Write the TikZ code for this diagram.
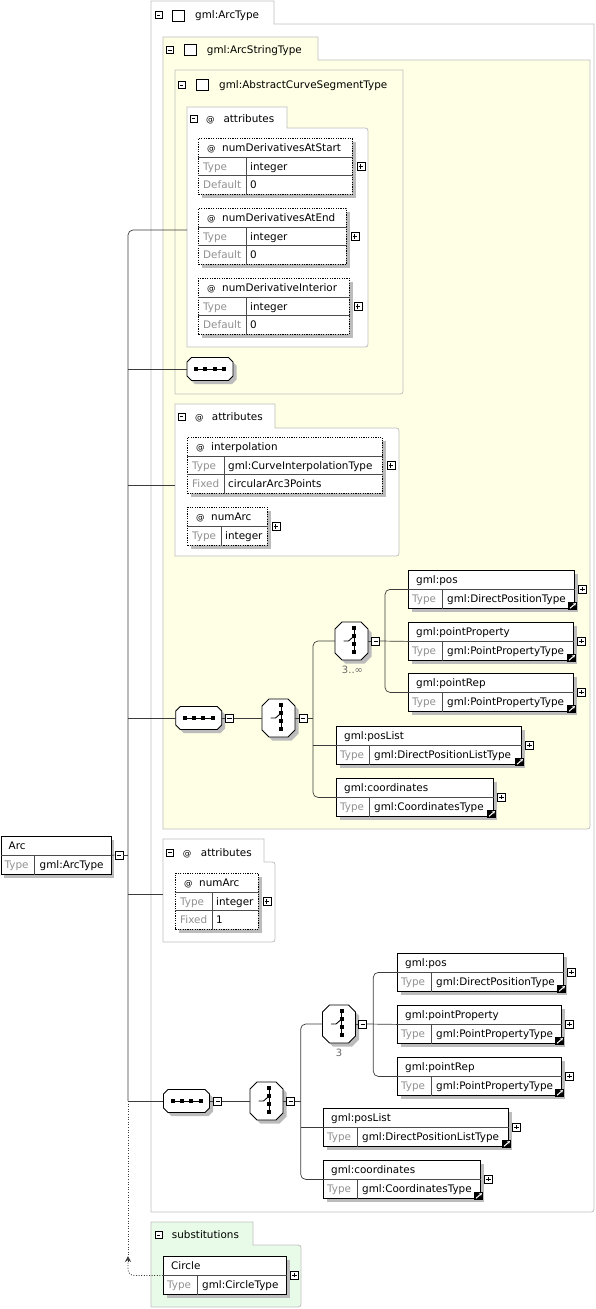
\documentclass[tikz,border=0pt]{standalone}
\usepackage{fontspec}
\setmainfont{DejaVu Sans}
\usetikzlibrary{arrows.meta,positioning,calc,shadows}

\definecolor{frameyellow}{RGB}{255,255,229}
\definecolor{framegreen}{RGB}{232,251,232}
\definecolor{framegrey}{RGB}{192,192,192}
\definecolor{linegrey}{RGB}{60,60,60}
\definecolor{typegrey}{RGB}{145,145,145}
\definecolor{shadowgrey}{RGB}{188,188,188}

\tikzset{
  frameline/.style={draw=framegrey, line width=0.8pt},
  conn/.style={draw=linegrey, line width=0.7pt},
  subline/.style={draw=linegrey, line width=0.8pt, dash pattern=on 1pt off 1.6pt},
  boxshadow/.style={drop shadow={shadow xshift=3.5pt, shadow yshift=-3.5pt, fill=shadowgrey, opacity=1}},
  elembox/.style={draw, line width=0.8pt, fill=white, anchor=north west, minimum height=38pt, inner sep=0, boxshadow},
  attrbox/.style={draw, line width=0.8pt, dash pattern=on 1.2pt off 1.2pt, fill=white, anchor=north west, inner sep=0, boxshadow},
  rowline/.style={draw=black!70, line width=0.6pt},
  txt/.style={anchor=base west, inner sep=0, font=\fontsize{10.4}{12}\selectfont},
  greytxt/.style={txt, text=typegrey},
  attxt/.style={txt, font=\fontsize{8.5}{10}\selectfont},
  cardtxt/.style={inner sep=0, text=black!60, font=\fontsize{10}{12}\selectfont},
  iconspot/.style={rectangle, inner sep=0},
  btn/.style={draw, fill=white, line width=0.6pt, minimum size=8pt, inner sep=0},
  minusbtn/.style={btn, path picture={
    \draw[line width=0.7pt] ([xshift=1.8pt]path picture bounding box.west) -- ([xshift=-1.8pt]path picture bounding box.east);}},
  plusbtn/.style={btn, path picture={
    \draw[line width=0.7pt] ([xshift=1.8pt]path picture bounding box.west) -- ([xshift=-1.8pt]path picture bounding box.east);
    \draw[line width=0.7pt] ([yshift=-1.8pt]path picture bounding box.north) -- ([yshift=1.8pt]path picture bounding box.south);}},
  linkicon/.style={fill=black, minimum width=9pt, minimum height=8pt, inner sep=0, path picture={
    \draw[white, line width=1pt, -{Stealth[length=2.8pt,width=3.4pt]}] ([shift={(1.8pt,1.6pt)}]path picture bounding box.south west) -- ([shift={(-1.4pt,-1.3pt)}]path picture bounding box.north east);}},
  typesq/.style={draw, fill=white, line width=0.8pt, minimum width=12pt, minimum height=11pt, inner sep=0}
}

% frame with a tab: fill, left, top, tab right, step, right, bottom
\newcommand{\typeframe}[7]{%
  \draw[frameline, fill=#1] (#2,#3) -- (#4,#3) -- (#4,#5) -- (#6,#5) -- (#6,#7-6) .. controls (#6,#7) .. (#6-6,#7) -- (#2,#7) -- cycle;}
\newcommand{\attrframe}[7]{%
  \draw[frameline, fill=#1] (#2,#3) -- (#4,#3) -- (#4,#5) -- (#6-6,#5) .. controls (#6,#5) .. (#6,#5+6) -- (#6,#7-6) .. controls (#6,#7) .. (#6-6,#7) -- (#2,#7) -- cycle;}

% element box: name, left, top, width, divider, title, type, button
\newcommand{\elem}[8]{%
  \node[elembox, minimum width=#4pt] (#1) at (#2,#3) {};
  \draw[rowline] ([yshift=-19pt]#1.north west) -- ([yshift=-19pt]#1.north east);
  \draw[rowline] ([xshift=#5pt, yshift=-19pt]#1.north west) -- ([xshift=#5pt]#1.south west);
  \node[txt] (#1-n) at ([xshift=8pt, yshift=-13.3pt]#1.north west) {#6};
  \node[greytxt] (#1-k) at ([xshift=4pt, yshift=-32.3pt]#1.north west) {Type};
  \node[txt] (#1-v) at ([xshift=#5pt+5pt, yshift=-32.3pt]#1.north west) {#7};
  \node[#8] (#1-p) at ([xshift=7.5pt, yshift=-19pt]#1.north east) {};}
\newcommand{\linkof}[1]{%
  \node[linkicon] (#1-a) at ([xshift=-2pt, yshift=3pt]#1.south east) {};}

% attribute box: name, left, top, width, divider, attribute, type, key, value
\newcommand{\attr}[9]{%
  \node[attrbox, minimum width=#4pt, minimum height=56pt] (#1) at (#2,#3) {};
  \draw[rowline] ([yshift=-19pt]#1.north west) -- ([yshift=-19pt]#1.north east);
  \draw[rowline] ([yshift=-37.5pt]#1.north west) -- ([yshift=-37.5pt]#1.north east);
  \draw[rowline] ([xshift=#5pt, yshift=-19pt]#1.north west) -- ([xshift=#5pt]#1.south west);
  \node[attxt] (#1-at) at ([xshift=9pt, yshift=-13.3pt]#1.north west) {@};
  \node[txt] (#1-n) at ([xshift=24pt, yshift=-13.3pt]#1.north west) {#6};
  \node[greytxt] (#1-k) at ([xshift=5pt, yshift=-32pt]#1.north west) {Type};
  \node[txt] (#1-v) at ([xshift=#5pt+4pt, yshift=-32pt]#1.north west) {#7};
  \node[greytxt] (#1-k2) at ([xshift=5pt, yshift=-50.5pt]#1.north west) {#8};
  \node[txt] (#1-v2) at ([xshift=#5pt+4pt, yshift=-50.5pt]#1.north west) {#9};
  \node[plusbtn] (#1-p) at ([xshift=8pt]#1.east) {};}
\newcommand{\attrshort}[7]{%
  \node[attrbox, minimum width=#4pt, minimum height=38pt] (#1) at (#2,#3) {};
  \draw[rowline] ([yshift=-19pt]#1.north west) -- ([yshift=-19pt]#1.north east);
  \draw[rowline] ([xshift=#5pt, yshift=-19pt]#1.north west) -- ([xshift=#5pt]#1.south west);
  \node[attxt] (#1-at) at ([xshift=9pt, yshift=-13.3pt]#1.north west) {@};
  \node[txt] (#1-n) at ([xshift=24pt, yshift=-13.3pt]#1.north west) {#6};
  \node[greytxt] (#1-k) at ([xshift=5pt, yshift=-32pt]#1.north west) {Type};
  \node[txt] (#1-v) at ([xshift=#5pt+4pt, yshift=-32pt]#1.north west) {#7};
  \node[plusbtn] (#1-p) at ([xshift=8pt]#1.east) {};}

% octagon: style, centre, half width, half height, chamfer
\newcommand{\octdraw}[5]{%
  \path[#1] ([shift={(-#3pt+#5pt,#4pt)}]#2) -- ([shift={(#3pt-#5pt,#4pt)}]#2) -- ([shift={(#3pt,#4pt-#5pt)}]#2) -- ([shift={(#3pt,-#4pt+#5pt)}]#2) -- ([shift={(#3pt-#5pt,-#4pt)}]#2) -- ([shift={(-#3pt+#5pt,-#4pt)}]#2) -- ([shift={(-#3pt,-#4pt+#5pt)}]#2) -- ([shift={(-#3pt,#4pt-#5pt)}]#2) -- cycle;}

% sequence icon: name, x, y
\newcommand{\seqicon}[3]{%
  \node[iconspot, minimum width=46pt, minimum height=23pt] (#1) at (#2,#3) {};
  \coordinate (#1-s) at ([shift={(3.5pt,-3.5pt)}]#1.center);
  \octdraw{fill=shadowgrey}{#1-s}{23}{11.5}{4.5}
  \octdraw{draw, fill=white, line width=0.8pt}{#1.center}{23}{11.5}{4.5}
  \draw[line width=0.9pt] ([xshift=-14pt]#1.center) -- ([xshift=14pt]#1.center);
  \fill ([xshift=-14pt]#1.center) ++(-2pt,-2pt) rectangle ++(4pt,4pt);
  \fill ([xshift=-4.7pt]#1.center) ++(-2pt,-2pt) rectangle ++(4pt,4pt);
  \fill ([xshift=4.7pt]#1.center) ++(-2pt,-2pt) rectangle ++(4pt,4pt);
  \fill ([xshift=14pt]#1.center) ++(-2pt,-2pt) rectangle ++(4pt,4pt);}

% choice icon: name, x, y
\newcommand{\choiceicon}[3]{%
  \node[iconspot, minimum width=33pt, minimum height=38pt] (#1) at (#2,#3) {};
  \coordinate (#1-s) at ([shift={(3.5pt,-3.5pt)}]#1.center);
  \octdraw{fill=shadowgrey}{#1-s}{16.5}{19}{7}
  \octdraw{draw, fill=white, line width=0.8pt}{#1.center}{16.5}{19}{7}
  \draw[line width=0.9pt] ([shift={(2.5pt,12.8pt)}]#1.center) -- ([shift={(2.5pt,-11.2pt)}]#1.center);
  \draw[line width=0.9pt] ([shift={(-8pt,0pt)}]#1.center) -- ([shift={(-3pt,0pt)}]#1.center) -- ([shift={(2.5pt,4.8pt)}]#1.center);
  \fill ([shift={(2.5pt,12.8pt)}]#1.center) ++(-2pt,-2pt) rectangle ++(4pt,4pt);
  \fill ([shift={(2.5pt,4.8pt)}]#1.center) ++(-2pt,-2pt) rectangle ++(4pt,4pt);
  \fill ([shift={(2.5pt,-3.2pt)}]#1.center) ++(-2pt,-2pt) rectangle ++(4pt,4pt);
  \fill ([shift={(2.5pt,-11.2pt)}]#1.center) ++(-2pt,-2pt) rectangle ++(4pt,4pt);}

\begin{document}
\begin{tikzpicture}[x=1pt, y=-1pt, >=Stealth]
        \useasboundingbox (0,0) rectangle (595,1309);
        % Type frames
        \typeframe{white}{151}{1}{274}{24}{594}{1212}
        \typeframe{frameyellow}{163}{37}{318}{60}{590}{829}
        \typeframe{none}{175}{70}{403}{70}{403}{394}
        \attrframe{white}{187}{107}{287}{128}{368}{347}
        \attrframe{white}{175}{404}{275}{428}{399}{556}
        \attrframe{white}{163}{839}{264}{862}{275}{942}
        \attrframe{framegreen}{151}{1222}{253}{1245}{301}{1307}

        % Frame headers
        \node[minusbtn, minimum size=7pt] (arcT-m) at (158.3,15) {};
        \node[typesq] (arcT-sq) at (178.7,16) {};
        \node[txt] (arcT-t) at (195,18.8) {gml:ArcType};
        \node[minusbtn, minimum size=7pt] (strT-m) at (170,50) {};
        \node[typesq] (strT-sq) at (190.7,49.7) {};
        \node[txt] (strT-t) at (206.7,53.8) {gml:ArcStringType};
        \node[minusbtn, minimum size=7pt] (segT-m) at (181.7,85) {};
        \node[typesq] (segT-sq) at (202.5,85) {};
        \node[txt] (segT-t) at (219,88.8) {gml:AbstractCurveSegmentType};
        \node[minusbtn, minimum size=7pt] (attA-m) at (193.3,118.3) {};
        \node[attxt] (attA-at) at (206,122) {@};
        \node[txt] (attA-t) at (223.3,122) {attributes};
        \node[minusbtn, minimum size=7pt] (attB-m) at (181.7,416.7) {};
        \node[attxt] (attB-at) at (195,420.5) {@};
        \node[txt] (attB-t) at (211.7,420.5) {attributes};
        \node[minusbtn, minimum size=7pt] (attC-m) at (170,852.3) {};
        \node[attxt] (attC-at) at (182.7,856) {@};
        \node[txt] (attC-t) at (200.7,856) {attributes};
        \node[minusbtn, minimum size=7pt] (subT-m) at (158.3,1235) {};
        \node[txt] (subT-t) at (171.7,1238.8) {substitutions};

        % Attributes
        \attr{numStart}{198}{138}{154}{48}{numDerivativesAtStart}{integer}{Default}{0}
        \attr{numEnd}{198}{208}{148}{48}{numDerivativesAtEnd}{integer}{Default}{0}
        \attr{numInt}{198}{278}{151}{48}{numDerivativeInterior}{integer}{Default}{0}
        \attr{interp}{187}{437}{195}{37}{interpolation}{gml:CurveInterpolationType}{Fixed}{circularArc3Points}
        \attrshort{numArcA}{187}{507}{80}{34}{numArc}{integer}
        \attr{numArcB}{175}{873}{83}{37}{numArc}{integer}{Fixed}{1}

        % Elements
        \elem{arc}{0.5}{836}{110}{34}{Arc}{gml:ArcType}{minusbtn}
        \elem{posA}{408}{570}{166}{34}{gml:pos}{gml:DirectPositionType}{plusbtn}
        \elem{propA}{408}{622}{165}{34}{gml:pointProperty}{gml:PointPropertyType}{plusbtn}
        \elem{repA}{408}{673}{165}{34}{gml:pointRep}{gml:PointPropertyType}{plusbtn}
        \elem{listA}{336}{726}{185}{33}{gml:posList}{gml:DirectPositionListType}{plusbtn}
        \elem{coordA}{336}{778}{157}{33}{gml:coordinates}{gml:CoordinatesType}{plusbtn}
        \elem{posC}{397}{953}{166}{34}{gml:pos}{gml:DirectPositionType}{plusbtn}
        \elem{propC}{397}{1005}{164}{34}{gml:pointProperty}{gml:PointPropertyType}{plusbtn}
        \elem{repC}{397}{1057}{164}{34}{gml:pointRep}{gml:PointPropertyType}{plusbtn}
        \elem{listC}{323}{1108}{185}{34}{gml:posList}{gml:DirectPositionListType}{plusbtn}
        \elem{coordC}{323}{1160}{157}{34}{gml:coordinates}{gml:CoordinatesType}{plusbtn}
        \elem{circ}{163}{1256}{123}{34}{Circle}{gml:CircleType}{plusbtn}
        \linkof{posA} \linkof{propA} \linkof{repA} \linkof{listA} \linkof{coordA}
        \linkof{posC} \linkof{propC} \linkof{repC} \linkof{listC} \linkof{coordC}

        % Compositors
        \seqicon{seqA}{210}{369}
        \seqicon{seqB}{198.7}{718}
        \node[minusbtn] (seqB-m) at (229.5,718) {};
        \choiceicon{chB}{278.5}{718}
        \node[minusbtn] (chB-m) at (303,718) {};
        \choiceicon{starA}{351.5}{641}
        \node[minusbtn] (starA-m) at (375.7,641) {};
        \node[cardtxt] (starA-c) at (352.5,670) {3..∞};
        \seqicon{seqC}{186.5}{1101}
        \node[minusbtn] (seqC-m) at (217.7,1101) {};
        \choiceicon{chC}{266.5}{1101}
        \node[minusbtn] (chC-m) at (290.7,1101) {};
        \choiceicon{starC}{339}{1024}
        \node[minusbtn] (starC-m) at (362.7,1024) {};
        \node[cardtxt] (starC-c) at (339,1053) {3};

        % Trunk
        \coordinate (attA) at (187,230);
        \coordinate (attB) at (175,485);
        \coordinate (attC) at (163,894);
        \coordinate (trunk) at (128,1101);
        \coordinate (substip) at (128,1256);
        \coordinate (subsbase) at (128,1262);
        \draw[conn] (arc.east) -- (arc-p.west);
        \draw[conn] (arc-p.east) -- (arc-p.east -| trunk);
        \draw[conn, rounded corners=5pt] (attA) -| (trunk);
        \draw[conn] (seqA.west) -- (seqA.west -| trunk);
        \draw[conn] (attB) -- (attB -| trunk);
        \draw[conn] (seqB.west) -- (seqB.west -| trunk);
        \draw[conn] (attC) -- (attC -| trunk);
        \draw[conn] (trunk) -- (seqC.west);
        \draw[subline] (trunk) -- (substip);
        \draw[subline, rounded corners=6pt] (circ.west) -| (subsbase);
        \draw[linegrey, line width=0.8pt, -{Stealth[length=6pt, width=6pt]}] (subsbase) -- (substip);

        % Upper choice
        \coordinate (forkB) at (313,718);
        \coordinate (forkA) at (385,641);
        \draw[conn] (seqB.east) -- (seqB-m.west);
        \draw[conn] (seqB-m.east) -- (chB.west);
        \draw[conn] (chB.east) -- (chB-m.west);
        \draw[conn] (chB-m.east) -- (forkB);
        \draw[conn, rounded corners=5pt] (starA.west) -- (starA.west -| forkB) |- (coordA.west);
        \draw[conn] (listA.west) -- (listA.west -| forkB);
        \draw[conn] (starA.east) -- (starA-m.west);
        \draw[conn] (starA-m.east) -- (propA.west);
        \draw[conn, rounded corners=5pt] (posA.west) -- (posA.west -| forkA) |- (repA.west);

        % Lower choice
        \coordinate (forkC) at (300.7,1101);
        \coordinate (forkD) at (373.3,1024);
        \draw[conn] (seqC.east) -- (seqC-m.west);
        \draw[conn] (seqC-m.east) -- (chC.west);
        \draw[conn] (chC.east) -- (chC-m.west);
        \draw[conn] (chC-m.east) -- (forkC);
        \draw[conn, rounded corners=5pt] (starC.west) -- (starC.west -| forkC) |- (coordC.west);
        \draw[conn] (listC.west) -- (listC.west -| forkC);
        \draw[conn] (starC.east) -- (starC-m.west);
        \draw[conn] (starC-m.east) -- (propC.west);
        \draw[conn, rounded corners=5pt] (posC.west) -- (posC.west -| forkD) |- (repC.west);
\end{tikzpicture}
\end{document}
